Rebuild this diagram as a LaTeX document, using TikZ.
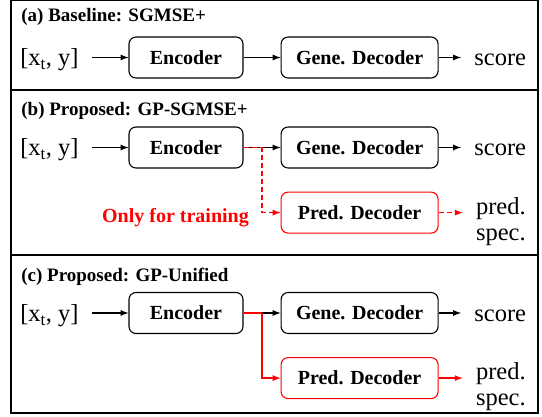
\documentclass[tikz,border=0pt]{standalone}
\usepackage{fontspec}
\setmainfont{Liberation Serif}
\usetikzlibrary{arrows, positioning, calc}
\tikzset{every picture/.style={line width=0.75pt}}

\begin{document}
\begin{tikzpicture}[x=1pt, y=-1pt, >=latex, node distance=37pt,
    block/.style={draw, rounded corners=7pt, line width=1.1pt, minimum height=41pt, minimum width=114pt, font=\fontsize{20}{24}\selectfont\bfseries},
    dec/.style={block, minimum width=157pt},
    pred/.style={dec, draw=red},
    io/.style={inner xsep=13pt, inner ysep=0pt, text height=20pt, text depth=3pt, font=\fontsize{24.5}{28}\selectfont},
    spec/.style={inner sep=0pt, align=left, font=\fontsize{24.5}{26}\selectfont},
    title/.style={anchor=west, inner sep=0pt, font=\fontsize{19}{22}\selectfont\bfseries},
    flow/.style={->, line width=1.7pt},
    train/.style={red, dash pattern=on 5pt off 3pt}]
    \useasboundingbox (0,0) rectangle (542,417);
    % frame
    \draw[line width=2.2pt] (11,0) rectangle (538,413);
    \draw[line width=2.2pt] (11,90) -- (538,90);
    \draw[line width=2.2pt] (11,255) -- (538,255);

    % (a)
    \node[title] (ta) at (21,17) {(a) Baseline: SGMSE+};
    \node[block] (encA) at (186,57.5) {Encoder};
    \node[dec, right=of encA] (genA) {Gene. Decoder};
    \node[io, anchor=east] (inA) at (92,57.5) {[x\textsubscript{t}, y]};
    \node[io, anchor=west] (outA) at (461,57.5) {score};
    \draw[flow] (inA) -- (encA);
    \draw[flow] (encA) -- (genA);
    \draw[flow] (genA) -- (outA);

    % (b)
    \node[title] (tb) at (21,111) {(b) Proposed: GP-SGMSE+};
    \node[block] (encB) at (186,147.5) {Encoder};
    \node[dec, right=of encB] (genB) {Gene. Decoder};
    \node[pred, below=23pt of genB] (predB) {Pred. Decoder};
    \node[io, anchor=east] (inB) at (92,147.5) {[x\textsubscript{t}, y]};
    \node[io, anchor=west] (outB) at (461,147.5) {score};
    \node[spec, right=37pt of predB, yshift=-9pt] (specB) {pred.\\spec.};
    \node[red, inner sep=0pt, font=\fontsize{20}{24}\selectfont\bfseries] (note) at (175.5,218) {Only for training};
    \coordinate (brB) at ($(encB.east)!0.5!(genB.west)$);
    \draw[flow] (inB) -- (encB);
    \draw[flow] (encB) -- (genB);
    \draw[flow] (genB) -- (outB);
    \draw[train, line width=1.7pt] (encB.east) -- (brB);
    \draw[flow, train] (brB) |- (predB);
    \draw[flow, train] (predB.east) -- ++(24,0);

    % (c)
    \node[title] (tc) at (21,277) {(c) Proposed: GP-Unified};
    \node[block] (encC) at (186,313) {Encoder};
    \node[dec, right=of encC] (genC) {Gene. Decoder};
    \node[pred, below=23pt of genC] (predC) {Pred. Decoder};
    \node[io, anchor=east] (inC) at (92,313) {[x\textsubscript{t}, y]};
    \node[io, anchor=west] (outC) at (461,313) {score};
    \node[spec, right=37pt of predC, yshift=-9pt] (specC) {pred.\\spec.};
    \coordinate (brC) at ($(encC.east)!0.5!(genC.west)$);
    \draw[flow] (inC) -- (encC);
    \draw[flow] (encC) -- (genC);
    \draw[flow] (genC) -- (outC);
    \draw[red, line width=1.7pt] (encC.east) -- (brC);
    \draw[flow, red] (brC) |- (predC);
    \draw[flow, red] (predC.east) -- ++(24,0);
\end{tikzpicture}
\end{document}
